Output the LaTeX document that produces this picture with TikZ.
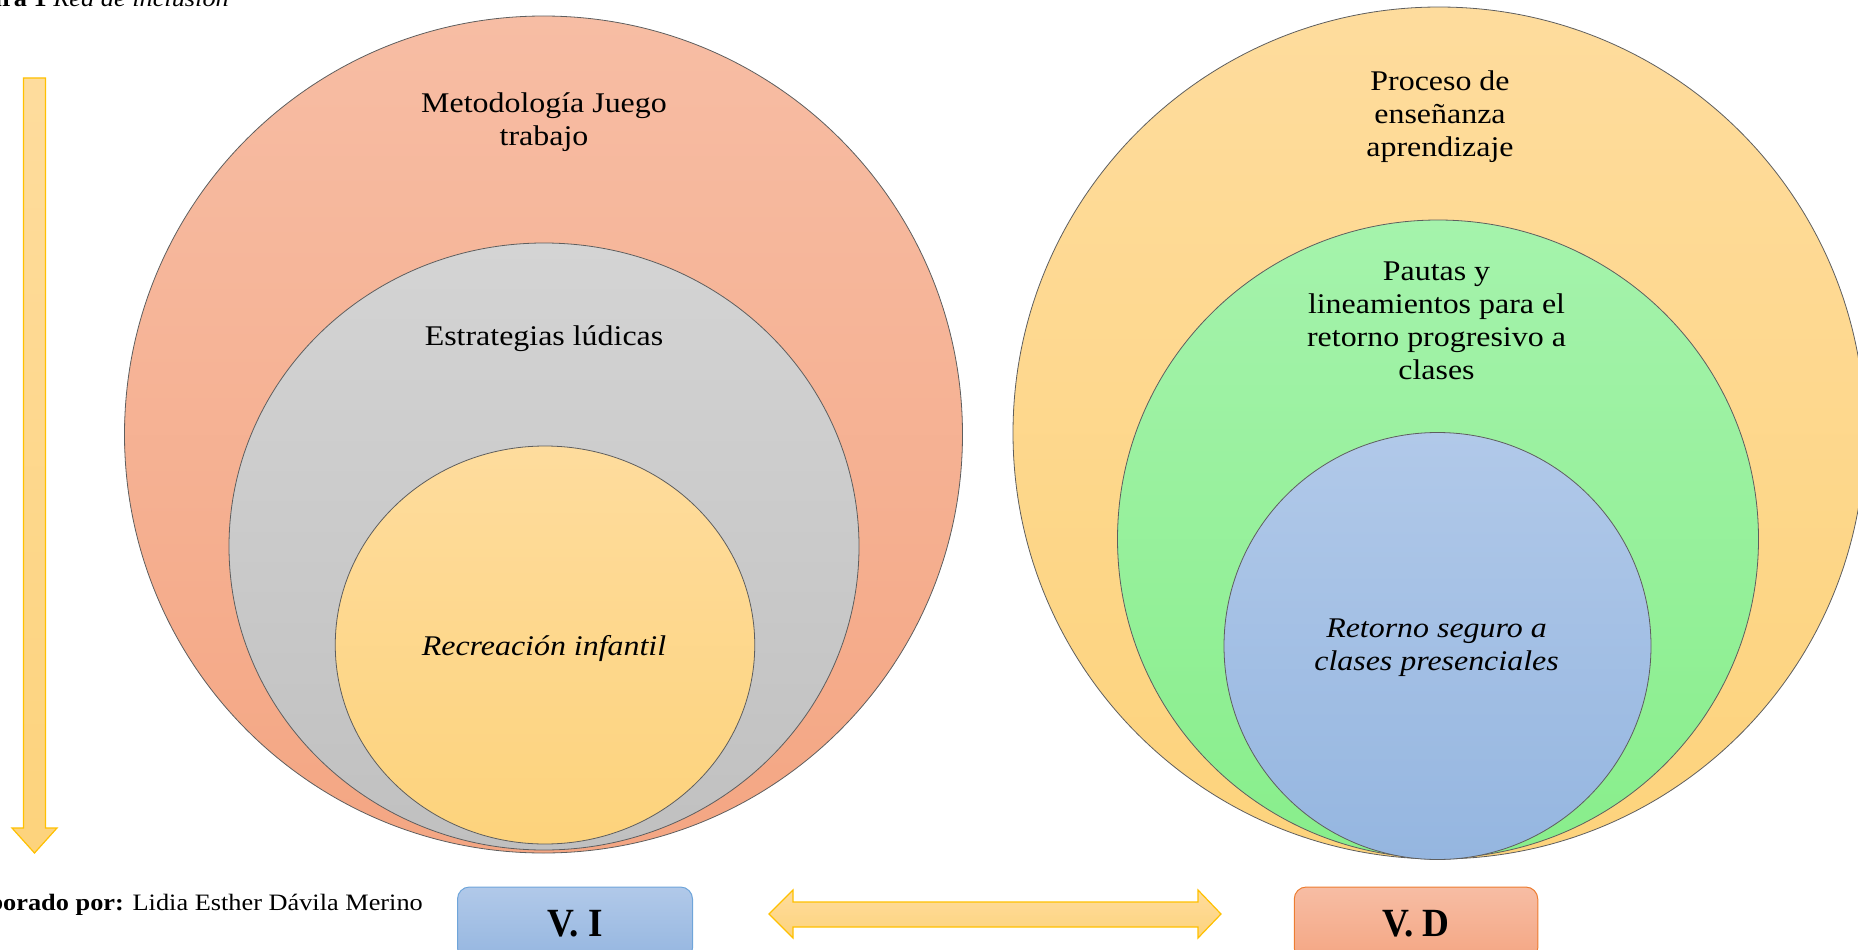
\documentclass[tikz,border=0pt]{standalone}
\usepackage{fontspec}
\setmainfont{Liberation Serif}[FakeStretch=1.12]
\newfontfamily\boxfont{Liberation Serif}[FakeStretch=0.93]
\usetikzlibrary{shapes.geometric}
\definecolor{orT}{HTML}{F7BDA4}\definecolor{orB}{HTML}{F4A683}
\definecolor{grT}{HTML}{D4D4D4}\definecolor{grB}{HTML}{C0C0C0}
\definecolor{yeT}{HTML}{FEDC9D}\definecolor{yeB}{HTML}{FDD37C}
\definecolor{gnT}{HTML}{A5F3AC}\definecolor{gnB}{HTML}{88EE8B}
\definecolor{blT}{HTML}{B1C9E9}\definecolor{blB}{HTML}{95B6E0}
\definecolor{gold}{HTML}{FFC000}
\definecolor{blEdge}{HTML}{6FA5DA}
\definecolor{orEdge}{HTML}{ED7D31}
\definecolor{rim}{HTML}{5E5E5E}
\tikzset{
  ring/.style={ellipse, draw=rim, line width=0.8pt, inner sep=0pt},
  lbl/.style={font=\fontsize{28.5}{33}\selectfont, align=center, inner sep=0pt},
  captext/.style={font=\fontsize{23.5}{28}\selectfont, inner sep=0pt},
  varbox/.style={draw, line width=1pt, rounded corners=12pt, inner sep=0pt,
    font=\boxfont\fontsize{40}{44}\selectfont\bfseries},
  yarrow/.style={draw=gold, line width=1.2pt}
}
\begin{document}
\begin{tikzpicture}[x=1pt,y=-1pt]
\useasboundingbox (0,0) rectangle (1858,950);
% left set of circles
\node[ring, minimum width=838pt, minimum height=837pt, top color=orT, bottom color=orB] (L1) at (543.5,434.5) {};
\node[ring, minimum width=630pt, minimum height=607pt, top color=grT, bottom color=grB] (L2) at (544,546.5) {};
\node[ring, minimum width=419.5pt, minimum height=398pt, top color=yeT, bottom color=yeB] (L3) at (545,645) {};
% right set of circles
\node[ring, minimum width=852pt, minimum height=852pt, top color=yeT, bottom color=yeB] (R1) at (1439,433) {};
\node[ring, minimum width=641pt, minimum height=638pt, top color=gnT, bottom color=gnB] (R2) at (1438,539) {};
\node[ring, minimum width=427pt, minimum height=427pt, top color=blT, bottom color=blB] (R3) at (1437.5,646) {};
% labels
\node[lbl] (t1) at (544,122) {Metodología Juego\\trabajo};
\node[lbl, anchor=base] (t2) at (544,345) {Estrategias lúdicas};
\node[lbl, anchor=base] (t3) at (544,655) {\itshape Recreación infantil};
\node[lbl] (t4) at (1440,116.5) {Proceso de\\enseñanza\\aprendizaje};
\node[lbl] (t5) at (1436.5,321) {Pautas y\\lineamientos para el\\retorno progresivo a\\clases};
\node[lbl] (t6) at (1436.5,647.5) {\itshape Retorno seguro a\\\itshape clases presenciales};
% left vertical arrow
\draw[yarrow, top color=yeT, bottom color=yeB]
  (23.5,78) -- (45.5,78) -- (45.5,828) -- (57,828) -- (34.5,853) -- (12,828) -- (23.5,828) -- cycle;
% double arrow
\draw[yarrow, top color=yeT, bottom color=yeB]
  (769,914) -- (793,890) -- (793,902) -- (1198,902) -- (1198,890) -- (1221,914)
  -- (1198,938) -- (1198,927) -- (793,927) -- (793,938) -- cycle;
% variable boxes
\node[varbox, draw=blEdge, top color=blT, bottom color=blB, minimum width=235pt, minimum height=73pt] (VI) at (575,923.5) {V. I};
\node[varbox, draw=orEdge, top color=orT, bottom color=orB, minimum width=243.5pt, minimum height=73pt] (VD) at (1416,923.5) {V. D};
% captions
\node[captext, anchor=base east] (title) at (229,6.5) {\textbf{Figura 1} \textit{Red de inclusión}};
\node[captext, anchor=base east] (author) at (423,910) {\textbf{Elaborado por:} Lidia Esther Dávila Merino};
\end{tikzpicture}
\end{document}
